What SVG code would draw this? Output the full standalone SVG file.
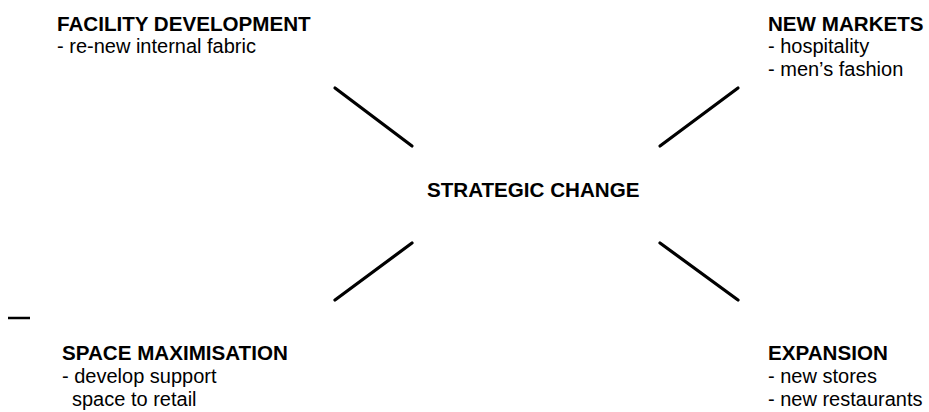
<svg xmlns="http://www.w3.org/2000/svg" width="929" height="412" viewBox="0 0 929 412">
<style>
.t{font-family:"Liberation Sans",Arial,sans-serif;font-weight:bold;font-size:20.6px;fill:#000}
.s{font-family:"Liberation Sans",Arial,sans-serif;font-size:20px;fill:#000}
.c{stroke:#000;stroke-width:3.2;stroke-linecap:round;fill:none}
</style>
<rect width="929" height="412" fill="#fff"/>
<g id="connectors">
<line class="c" x1="335" y1="88" x2="412" y2="146"/>
<line class="c" x1="738" y1="88" x2="660" y2="146"/>
<line class="c" x1="412" y1="243" x2="335" y2="300"/>
<line class="c" x1="660" y1="243" x2="738" y2="300"/>
<line x1="8" y1="318" x2="30" y2="318" stroke="#000" stroke-width="2.5"/>
</g>
<g id="center">
<text class="t" x="427" y="197">STRATEGIC CHANGE</text>
</g>
<g id="facility">
<text class="t" x="57" y="31">FACILITY DEVELOPMENT</text>
<text class="s" x="57" y="53">- re-new internal fabric</text>
</g>
<g id="markets">
<text class="t" x="768" y="31">NEW MARKETS</text>
<text class="s" x="768" y="53">- hospitality</text>
<text class="s" x="768" y="76">- men’s fashion</text>
</g>
<g id="space">
<text class="t" x="62" y="360">SPACE MAXIMISATION</text>
<text class="s" x="62" y="383">- develop support</text>
<text class="s" x="72" y="406">space to retail</text>
</g>
<g id="expansion">
<text class="t" x="768" y="360">EXPANSION</text>
<text class="s" x="768" y="383">- new stores</text>
<text class="s" x="768" y="406">- new restaurants</text>
</g>
</svg>
